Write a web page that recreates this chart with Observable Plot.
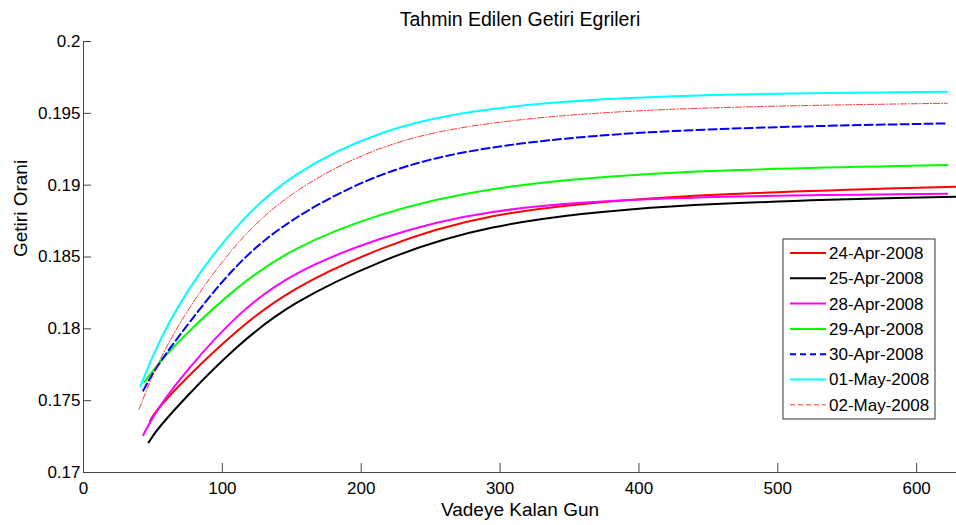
<!DOCTYPE html>
<html><head><meta charset="utf-8">
<script src="https://cdn.jsdelivr.net/npm/d3@7"></script>
<script src="https://cdn.jsdelivr.net/npm/@observablehq/plot@0.6"></script>
<style>body{margin:0;background:#fff;}</style>
</head><body><div id="chart"></div>
<script>
// ---- data ----
const titleText = "Tahmin Edilen Getiri Egrileri";
const xLabel = "Vadeye Kalan Gun";
const yLabel = "Getiri Orani";
const dates = ["24-Apr-2008","25-Apr-2008","28-Apr-2008","29-Apr-2008","30-Apr-2008","01-May-2008","02-May-2008"];
const xTicks = [0, 100, 200, 300, 400, 500, 600];
const yTicks = [0.17, 0.175, 0.18, 0.185, 0.19, 0.195, 0.2];

const apr24Days = [48, 52, 74, 110, 149, 214, 286, 410, 630];
const apr24 = [0.1736, 0.1743, 0.1766, 0.1799, 0.1828, 0.1857, 0.1880, 0.1893, 0.1899];
const apr25Days = [47, 52, 74, 110, 149, 214, 286, 410, 630];
const apr25 = [0.1721, 0.1729, 0.1753, 0.1788, 0.1818, 0.1848, 0.1872, 0.1887, 0.1892];
const apr28Days = [43, 52, 74, 110, 149, 214, 286, 410, 622];
const apr28 = [0.1726, 0.1743, 0.1771, 0.1810, 0.1839, 0.1864, 0.1883, 0.1892, 0.1894];
const apr29Days = [44, 52, 74, 110, 149, 214, 286, 410, 622];
const apr29 = [0.1763, 0.1774, 0.1797, 0.1829, 0.1856, 0.1881, 0.1898, 0.1910, 0.1914];
const apr30Days = [43, 52, 74, 110, 149, 214, 286, 410, 622];
const apr30 = [0.1757, 0.1773, 0.1802, 0.1846, 0.1877, 0.1910, 0.1927, 0.1939, 0.1943];
const may01Days = [41, 52, 74, 110, 149, 214, 286, 410, 622];
const may01 = [0.1760, 0.1787, 0.1827, 0.1873, 0.1908, 0.1939, 0.1954, 0.1963, 0.1965];
const may02Days = [40, 52, 74, 110, 149, 214, 286, 410, 622];
const may02 = [0.1744, 0.1774, 0.1813, 0.1861, 0.1896, 0.1929, 0.1944, 0.1954, 0.1957];

// ---- styles ----
const styles = [
  {stroke: "#ff0000", width: 2, dash: null},
  {stroke: "#000000", width: 2, dash: null},
  {stroke: "#ff00ff", width: 2, dash: null},
  {stroke: "#00ff00", width: 2, dash: null},
  {stroke: "#0000ff", width: 2, dash: "8,4"},
  {stroke: "#00ffff", width: 2, dash: null},
  {stroke: "#ff0000", width: 0.8, dash: "6,2,1,2"}
];
const legendDash = [null, null, null, null, "6,4", null, "5,3"];

const daysList = [apr24Days, apr25Days, apr28Days, apr29Days, apr30Days, may01Days, may02Days];
const valuesList = [apr24, apr25, apr28, apr29, apr30, may01, may02];
const rows = [];
dates.forEach((name, k) => daysList[k].forEach((d, i) => rows.push({date: name, day: d, rate: valuesList[k][i]})));

const font = "'Liberation Sans', Arial, Helvetica, sans-serif";
const axisColor = "#444";

const chart = Plot.plot({
  width: 956, height: 525,
  marginLeft: 83, marginRight: 0, marginTop: 41, marginBottom: 53,
  style: {fontFamily: font, fontSize: "17px", background: "white", color: "black", overflow: "visible"},
  x: {domain: [0, 628.7]},
  y: {domain: [0.17, 0.2]},
  marks: [
    Plot.ruleY([0.17], {stroke: axisColor, strokeWidth: 1}),
    Plot.ruleX([0], {stroke: axisColor, strokeWidth: 1}),
    Plot.axisX({ticks: xTicks, tickSize: -9, tickPadding: 18, label: null, tickFormat: d => String(d), stroke: axisColor, fontSize: 17}),
    Plot.axisY({ticks: yTicks, tickSize: -8, tickPadding: 11, label: null, tickFormat: d => String(d), stroke: axisColor, fontSize: 17}),
    ...dates.map((name, k) => Plot.line(rows.filter(r => r.date === name), {
      x: "day", y: "rate", stroke: styles[k].stroke, strokeWidth: styles[k].width,
      strokeDasharray: styles[k].dash, curve: "basis", clip: true
    })),
    Plot.text([titleText], {frameAnchor: "top", dy: -29, fontSize: 19.5, fill: "black"}),
    Plot.text([xLabel], {frameAnchor: "bottom", dy: 43, fontSize: 19, fill: "black"}),
    Plot.text([yLabel], {frameAnchor: "left", dx: -63, rotate: -90, fontSize: 19, fill: "black"})
  ]
});

// ---- legend ----
const svg = d3.select(chart);
const lg = svg.append("g").attr("font-family", font).attr("font-size", 17).attr("text-anchor", "start");
const box = {x: 783, y: 239, w: 152, h: 180};
lg.append("rect").attr("x", box.x).attr("y", box.y).attr("width", box.w).attr("height", box.h)
  .attr("fill", "white").attr("stroke", "#333").attr("stroke-width", 1);
dates.forEach((name, k) => {
  const cy = 253 + k * 25.3;
  lg.append("line").attr("x1", 790).attr("x2", 826).attr("y1", cy).attr("y2", cy)
    .attr("stroke", styles[k].stroke).attr("stroke-width", styles[k].width)
    .attr("stroke-dasharray", legendDash[k]);
  lg.append("text").attr("x", 829).attr("y", cy).attr("dy", "0.35em").attr("fill", "black")
    .attr("text-anchor", "start").text(name);
});

document.getElementById("chart").appendChild(chart);
</script>
</body></html>
